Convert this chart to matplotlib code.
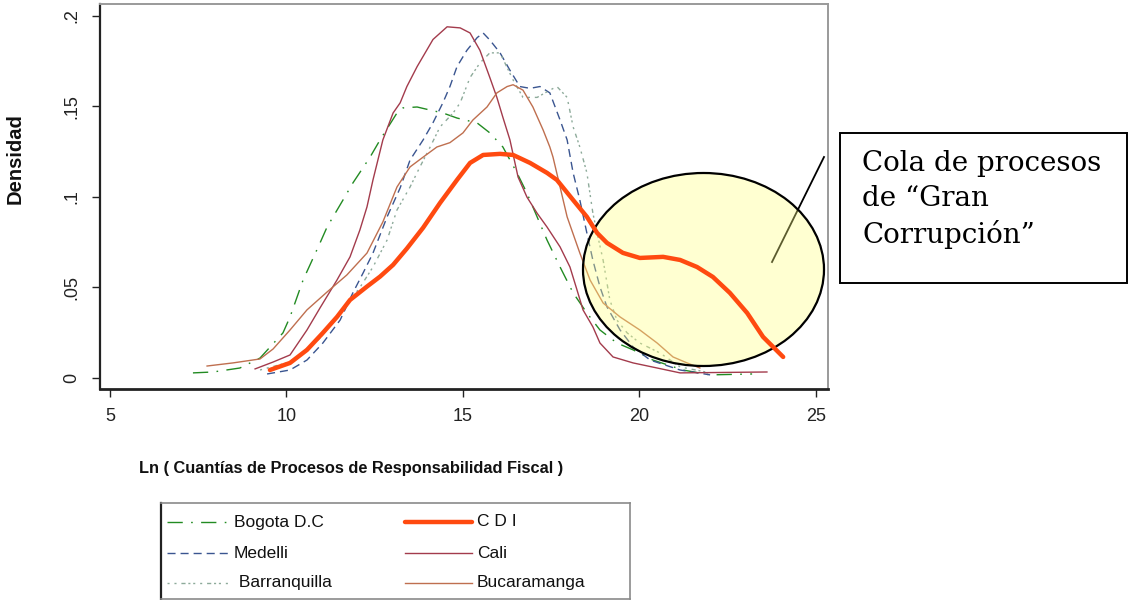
import matplotlib
matplotlib.use("Agg")
import matplotlib.pyplot as plt
from matplotlib.patches import Ellipse, Rectangle
from matplotlib.lines import Line2D
from matplotlib import font_manager as fm

# ---------------- data ----------------
bogota_x = [7.35, 7.92, 8.68, 9.25, 9.90, 10.10, 10.47, 10.95, 11.15, 11.60, 11.88, 12.37, 12.65,
            13.13, 13.30, 13.70, 14.07, 14.43, 14.83, 15.40, 15.76, 16.13, 16.53, 16.81, 17.10,
            17.38, 17.75, 18.12, 18.51, 18.88, 19.36, 19.82, 20.38, 21.23, 22.0, 23.19]
bogota_y = [0.0028, 0.0033, 0.0055, 0.011, 0.0249, 0.0337, 0.0541, 0.0746, 0.0834, 0.0983, 0.1077,
            0.1221, 0.1315, 0.1464, 0.1492, 0.1497, 0.148, 0.1464, 0.1436, 0.1409, 0.1354, 0.1276,
            0.1133, 0.1022, 0.089, 0.0762, 0.0613, 0.047, 0.0359, 0.0265, 0.0193, 0.0155, 0.0099,
            0.0044, 0.0017, 0.0022]

medellin_x = [9.45, 10.10, 10.58, 11.03, 11.52, 11.88, 12.17, 12.45, 12.85, 13.22, 13.50, 13.87,
              14.15, 14.43, 14.63, 14.83, 15.11, 15.40, 15.57, 15.76, 16.05, 16.33, 16.61, 16.90,
              17.18, 17.46, 17.75, 17.95, 18.12, 18.31, 18.51, 18.68, 18.88, 19.08, 19.45, 19.82,
              20.30, 21.15, 22.0]
medellin_y = [0.0022, 0.0044, 0.0099, 0.0193, 0.032, 0.047, 0.058, 0.069, 0.089, 0.105, 0.1204,
              0.1315, 0.141, 0.152, 0.161, 0.172, 0.181, 0.188, 0.1906, 0.1867, 0.1796, 0.170,
              0.161, 0.160, 0.161, 0.1575, 0.1425, 0.1315, 0.1133, 0.0983, 0.080, 0.065, 0.0503,
              0.0392, 0.0265, 0.0171, 0.0099, 0.0044, 0.0017]

barranquilla_x = [9.25, 10.10, 10.95, 11.60, 12.08, 12.45, 12.85, 13.13, 13.50, 13.78, 14.07, 14.35,
                  14.72, 14.92, 15.20, 15.48, 15.76, 16.05, 16.42, 16.70, 17.10, 17.46, 17.66, 17.95,
                  18.12, 18.31, 18.51, 18.68, 18.80, 18.97, 19.16, 19.36, 19.65, 20.01, 20.58,
                  21.15, 22.0]
barranquilla_y = [0.0044, 0.0088, 0.022, 0.0376, 0.050, 0.0613, 0.0762, 0.0928, 0.1055, 0.1166,
                  0.1276, 0.1387, 0.1464, 0.152, 0.166, 0.174, 0.1796, 0.1796, 0.1646, 0.155,
                  0.155, 0.159, 0.161, 0.155, 0.1387, 0.1276, 0.1133, 0.091, 0.080, 0.065, 0.0431,
                  0.032, 0.0249, 0.0193, 0.0138, 0.0061, 0.0028]

cdi_x = [9.53, 10.10, 10.58, 11.03, 11.43, 11.80, 12.28, 12.65, 13.02, 13.41, 13.87, 14.35, 14.83,
         15.20, 15.57, 16.05, 16.42, 16.90, 17.38, 17.66, 18.12, 18.51, 18.80, 19.08, 19.53,
         20.01, 20.67, 21.15, 21.63, 22.08, 22.56, 23.05, 23.50, 24.07]
cdi_y = [0.0044, 0.0083, 0.0155, 0.0249, 0.0337, 0.0431, 0.0505, 0.0560, 0.0625, 0.0715, 0.0830,
         0.0967, 0.1094, 0.1188, 0.1232, 0.1238, 0.1232, 0.1188, 0.1133, 0.1094, 0.0983, 0.089,
         0.0801, 0.0746, 0.0691, 0.0663, 0.0669, 0.0652, 0.0613, 0.0558, 0.047, 0.0359, 0.0227,
         0.0116]

cali_x = [9.11, 9.62, 10.10, 10.58, 10.95, 11.43, 11.80, 12.08, 12.28, 12.45, 12.73, 13.02, 13.22,
          13.41, 13.70, 14.15, 14.55, 14.92, 15.20, 15.48, 15.76, 15.96, 16.13, 16.33, 16.56,
          16.81, 17.10, 17.38, 17.75, 18.03, 18.23, 18.40, 18.68, 18.88, 19.25, 19.82, 20.50,
          21.15, 23.61]
cali_y = [0.0050, 0.0088, 0.0127, 0.0265, 0.0387, 0.0541, 0.0669, 0.0818, 0.0945, 0.1094, 0.1315,
          0.1464, 0.152, 0.161, 0.172, 0.187, 0.194, 0.1934, 0.1906, 0.181, 0.166, 0.155, 0.144,
          0.1315, 0.111, 0.100, 0.091, 0.0834, 0.0724, 0.0613, 0.0486, 0.0376, 0.0282, 0.0193,
          0.0116, 0.0083, 0.0055, 0.0028, 0.0033]

bucaramanga_x = [7.75, 8.48, 9.25, 9.62, 10.10, 10.58, 11.15, 11.71, 12.28, 12.73, 13.13, 13.50,
                 13.87, 14.26, 14.63, 15.0, 15.28, 15.68, 15.96, 16.25, 16.42, 16.70, 16.98, 17.27,
                 17.46, 17.55, 17.75, 17.95, 18.31, 18.60, 18.97, 19.45, 20.01, 20.50, 20.95,
                 21.35, 21.71]
bucaramanga_y = [0.0066, 0.0083, 0.0105, 0.016, 0.0265, 0.0376, 0.0475, 0.0569, 0.069, 0.0862,
                 0.1055, 0.1166, 0.122, 0.1276, 0.130, 0.1354, 0.1425, 0.1497, 0.1575, 0.161,
                 0.162, 0.159, 0.1497, 0.137, 0.1276, 0.122, 0.1055, 0.089, 0.069, 0.0541, 0.0414,
                 0.0337, 0.0265, 0.0193, 0.0116, 0.0083, 0.0055]

x_ticks = [5, 10, 15, 20, 25]
x_tick_labels = ["5", "10", "15", "20", "25"]
y_ticks = [0, 0.05, 0.1, 0.15, 0.2]
y_tick_labels = ["0", ".05", ".1", ".15", ".2"]

legend_labels = ["Bogota D.C", "Medelli", " Barranquilla", "C D I", "Cali", "Bucaramanga"]
x_label = "Ln ( Cuantías de Procesos de Responsabilidad Fiscal )"
y_label = "Densidad"
note_text = "Cola de procesos\nde \u201cGran\nCorrupción\u201d"

# ---------------- styles ----------------
W, H = 1128, 600
names = {f.name for f in fm.fontManager.ttflist}
SANS = "Liberation Sans Narrow" if "Liberation Sans Narrow" in names else "Liberation Sans"
SANS_LIST = [SANS, "DejaVu Sans"]

c_bog = "#228B22"
c_med = "#3A5590"
c_bar = "#8DAA9A"
c_cdi = "#FF4A10"
c_cali = "#A33B4C"
c_buc = "#BF6F4F"

st_bog = dict(color=c_bog, lw=1.0, dashes=(11, 6, 1.2, 6))
st_med = dict(color=c_med, lw=1.0, dashes=(5.8, 3.6))
st_bar = dict(color=c_bar, lw=1.0, dashes=(1.5, 3.5, 1.5, 3.5, 3.0, 2.0, 1.5, 2.0))
st_cdi = dict(color=c_cdi, lw=3.2, solid_capstyle="round", solid_joinstyle="round")
st_cali = dict(color=c_cali, lw=1.0)
st_buc = dict(color=c_buc, lw=1.0)


def fx(px):
    return px / W


def fy(py):
    return 1 - py / H


fig = plt.figure(figsize=(W / 100, H / 100), dpi=100)
fig.patch.set_facecolor("white")

# main axes (pixel frame 100..828 x 4..389)
ax = fig.add_axes([fx(100), fy(389), (828 - 100) / W, (389 - 4) / H])
ax.set_xlim(4.717, 25.34)
ax.set_ylim(-0.0061, 0.2066)

ax.plot(bogota_x, bogota_y, zorder=2, **st_bog)
ax.plot(medellin_x, medellin_y, zorder=2, **st_med)
ax.plot(barranquilla_x, barranquilla_y, zorder=2, **st_bar)
ax.plot(cali_x, cali_y, zorder=2, **st_cali)
ax.plot(bucaramanga_x, bucaramanga_y, zorder=2, **st_buc)
ax.plot(cdi_x, cdi_y, zorder=6, **st_cdi)

# annotation: connector, ellipse highlighting the tail
ax.add_line(Line2D([fx(772), fx(824)], [fy(262), fy(157)], transform=fig.transFigure,
                   color="black", lw=1.3, zorder=3))
ax.add_patch(Ellipse((fx(703.5), fy(269.5)), 241 / W, 193 / H, transform=fig.transFigure,
                     facecolor=(1, 1, 0.5), alpha=0.36, edgecolor="none", zorder=4))
ax.add_patch(Ellipse((fx(703.5), fy(269.5)), 241 / W, 193 / H, transform=fig.transFigure,
                     facecolor="none", edgecolor="black", lw=1.6, zorder=5))

# spines
for s in ["top", "right"]:
    ax.spines[s].set_color("#9a9a9a")
    ax.spines[s].set_linewidth(1.4)
ax.spines["left"].set_color("#222222")
ax.spines["left"].set_linewidth(1.6)
ax.spines["bottom"].set_color("#222222")
ax.spines["bottom"].set_linewidth(2.0)

ax.set_xticks(x_ticks)
ax.set_xticklabels(x_tick_labels, family=SANS_LIST, fontsize=13, color="#222222")
ax.set_yticks(y_ticks)
ax.set_yticklabels(y_tick_labels, family=SANS_LIST, fontsize=13, color="#222222",
                   rotation=90, va="center")
ax.tick_params(axis="both", direction="out", length=6, width=1.0, color="#222222")
ax.tick_params(axis="x", pad=8)
ax.tick_params(axis="y", pad=8)

# axis titles
fig.text(fx(351), fy(468), x_label, ha="center", va="center", family=SANS_LIST,
         fontsize=11.8, fontweight="bold", color="#111111")
fig.text(fx(15), fy(159), y_label, ha="center", va="center", rotation=90, family=SANS_LIST,
         fontsize=14.5, fontweight="bold", color="#111111")

# note box
fig.add_artist(Rectangle((fx(840), fy(283)), (1127 - 840) / W, (283 - 133) / H,
                         transform=fig.transFigure, facecolor="white", edgecolor="black",
                         lw=1.4))
fig.text(fx(862), fy(150), note_text, ha="left", va="top", family="DejaVu Serif",
         fontsize=20, linespacing=1.36, color="black")

# legend (manual box below the plot)
lx0, ly0, lx1, ly1 = 161, 503, 630, 599
lax = fig.add_axes([fx(lx0), fy(ly1), (lx1 - lx0) / W, (ly1 - ly0) / H])
lax.set_xlim(lx0, lx1)
lax.set_ylim(ly1, ly0)
lax.set_xticks([])
lax.set_yticks([])
for s in ["top", "right", "bottom"]:
    lax.spines[s].set_color("#8a8a8a")
    lax.spines[s].set_linewidth(1.2)
lax.spines["left"].set_color("#222222")
lax.spines["left"].set_linewidth(1.6)

rows = [522, 553, 583]
styles = [st_bog, st_med, st_bar, st_cdi, st_cali, st_buc]
for i, (lab, st) in enumerate(zip(legend_labels, styles)):
    col, row = divmod(i, 3)
    x0, x1, tx = (167, 229, 234) if col == 0 else (405, 472, 477)
    lax.add_line(Line2D([x0, x1], [rows[row], rows[row]], **st))
    lax.text(tx, rows[row], lab, ha="left", va="center", family=SANS_LIST, fontsize=12.5,
             color="#111111")

fig.savefig("out.png", dpi=100, facecolor="white")
